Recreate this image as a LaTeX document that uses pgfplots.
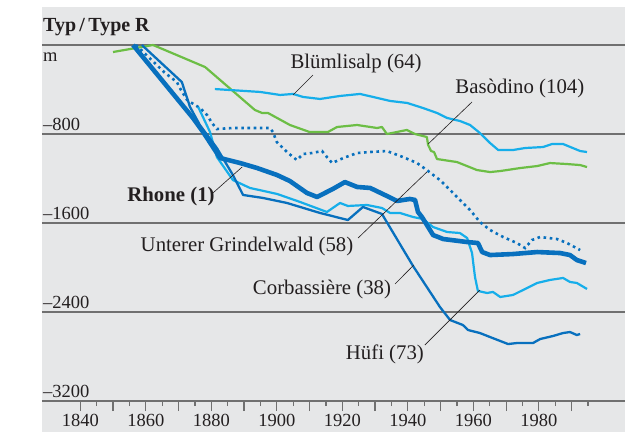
\documentclass[border=0pt]{standalone}
\usepackage{fontspec}
\setmainfont{Liberation Serif}
\usepackage{pgfplots}
\pgfplotsset{compat=1.18}

\definecolor{bg}{RGB}{230,231,232}
\definecolor{grn}{RGB}{108,190,69}
\definecolor{lblue}{RGB}{22,174,234}
\definecolor{dblue}{RGB}{8,112,190}
\definecolor{gridc}{RGB}{112,112,112}
\definecolor{txt}{RGB}{35,31,32}

\newcommand{\tickfont}{\fontsize{18.5}{20}\selectfont}
\newcommand{\labfont}{\fontsize{20.8}{22}\selectfont}

\begin{document}
\begin{tikzpicture}[x=1pt,y=1pt]
\useasboundingbox (0,0) rectangle (638,432);
\fill[bg] (42,0) rectangle (625,425);
\begin{axis}[
  at={(42pt,31pt)}, anchor=south west,
  scale only axis, width=583pt, height=394pt,
  xmin=1828.31, xmax=2006.3, ymin=-3200, ymax=341.6,
  axis x line*=bottom, axis y line*=left,
  x axis line style={gridc, line width=1.5pt, -},
  y axis line style={draw=none},
  xtick={1840,1850,...,1990},
  xticklabels={1840,,1860,,1880,,1900,,1920,,1940,,1960,,1980,},
  minor xtick={1845,1855,...,1995},
  tick align=outside,
  major tick length=10pt, minor tick length=5pt,
  xtick style={gridc, line width=1.2pt},
  xticklabel style={font=\tickfont, text=txt},
  ytick={-2400,-1600,-800,0},
  yticklabels={},
  ytick style={draw=none},
  ymajorgrids,
  major grid style={gridc, line width=1.5pt},
  clip=false,
]
% Basodino
\addplot[grn, line width=2.2pt, line join=round] coordinates {
(1850.0,-63) (1862.2,0) (1878.1,-198) (1893.3,-584) (1895.5,-611) (1897.3,-611)
(1904.0,-719) (1910.0,-782) (1915.6,-782) (1918.4,-737) (1924.5,-719) (1930.6,-746)
(1932.1,-737) (1933.6,-800) (1939.7,-764) (1942.2,-800) (1945.8,-827) (1946.2,-899)
(1947.1,-953) (1948.0,-962) (1948.9,-1025) (1955.0,-1052) (1961.1,-1124) (1965.1,-1142)
(1968.2,-1133) (1974.3,-1106) (1979.5,-1088) (1983.4,-1061) (1988.6,-1070) (1992.6,-1079)
(1994.7,-1097)};
% Bluemlisalp
\addplot[lblue, line width=2.2pt, line join=round] coordinates {
(1881.1,-396) (1894.9,-422) (1901.0,-449) (1905.0,-440) (1908.0,-467) (1913.2,-485)
(1919.3,-458) (1925.4,-440) (1929.4,-467) (1934.6,-503) (1939.8,-521) (1944.6,-566)
(1948.9,-611) (1952.0,-656) (1955.9,-683) (1959.0,-719) (1962.0,-791) (1965.1,-881)
(1967.6,-944) (1972.1,-944) (1975.8,-926) (1981.3,-917) (1984.0,-890) (1987.4,-890)
(1992.6,-953) (1994.7,-962)};
% Unterer Grindelwald
\addplot[dblue, line width=2.6pt, dash pattern=on 2.6pt off 3.6pt] coordinates {
(1857.0,0) (1865.9,-252) (1869.5,-333) (1870.4,-387) (1872.6,-494) (1875.0,-539)
(1876.5,-566) (1878.7,-629) (1880.2,-701) (1881.7,-755) (1886.6,-746) (1897.9,-746)
(1898.8,-782) (1900.0,-872) (1903.1,-962) (1906.1,-1034) (1908.0,-980) (1910.7,-971)
(1913.8,-953) (1915.3,-1007) (1916.9,-1061) (1920.3,-1016) (1924.5,-971) (1928.5,-962)
(1933.6,-953) (1938.5,-1007) (1942.8,-1061) (1945.8,-1124) (1949.8,-1214) (1952.9,-1303)
(1955.0,-1366) (1959.0,-1483) (1962.0,-1591) (1965.1,-1663) (1969.1,-1726) (1973.3,-1780)
(1975.8,-1825) (1977.9,-1753) (1980.4,-1726) (1985.5,-1744) (1988.6,-1780) (1992.6,-1843)};
% Huefi
\addplot[lblue, line width=2.2pt, line join=round] coordinates {
(1876.0,-557) (1879.6,-782) (1881.7,-1007) (1886.6,-1214) (1891.8,-1285) (1900.1,-1339)
(1907.1,-1411) (1915.3,-1501) (1919.3,-1420) (1921.7,-1447) (1927.5,-1438) (1932.1,-1465)
(1934.6,-1510) (1937.6,-1510) (1941.6,-1546) (1944.6,-1564) (1947.7,-1636) (1952.0,-1681)
(1955.9,-1690) (1958.1,-1735) (1959.6,-1870) (1960.5,-2085) (1961.4,-2211) (1964.2,-2229)
(1966.0,-2220) (1968.2,-2265) (1972.1,-2247) (1975.2,-2202) (1979.5,-2139) (1983.4,-2112)
(1987.4,-2094) (1989.5,-2130) (1991.6,-2139) (1994.7,-2193)};
% Corbassiere
\addplot[dblue, line width=2.3pt, line join=round] coordinates {
(1858.8,0) (1871.0,-333) (1873.5,-557) (1876.5,-719) (1881.7,-926) (1886.6,-1169)
(1889.7,-1348) (1895.8,-1375) (1903.1,-1420) (1913.2,-1510) (1921.7,-1573) (1926.3,-1456)
(1932.1,-1519) (1941.6,-1987) (1949.8,-2355) (1952.9,-2472) (1956.8,-2517) (1958.4,-2562)
(1962.0,-2589) (1965.1,-2625) (1970.6,-2688) (1973.3,-2679) (1978.2,-2679) (1980.4,-2643)
(1984.3,-2616) (1987.4,-2589) (1989.5,-2580) (1991.6,-2607) (1992.6,-2598)};
% Rhone
\addplot[dblue, line width=4.6pt, line join=round] coordinates {
(1856.1,0) (1874.4,-656) (1877.5,-782) (1882.7,-1016) (1888.8,-1061) (1894.0,-1106)
(1900.1,-1169) (1904.0,-1223) (1909.2,-1330) (1912.3,-1366) (1917.1,-1294) (1920.8,-1232)
(1924.5,-1276) (1928.5,-1285) (1933.6,-1357) (1936.7,-1402) (1940.6,-1384) (1942.2,-1393)
(1943.1,-1501) (1944.3,-1546) (1946.2,-1636) (1947.7,-1708) (1950.8,-1744) (1958.1,-1771)
(1961.4,-1780) (1962.7,-1861) (1965.1,-1888) (1972.1,-1879) (1979.5,-1861) (1986.5,-1870)
(1989.5,-1888) (1991.6,-1933) (1994.4,-1960)};

% leader lines
\draw[txt, line width=0.6pt] (axis cs:1911.05,-270) -- (axis cs:1904.95,-449);
\draw[txt, line width=0.6pt] (axis cs:1959.6,-512) -- (axis cs:1946.2,-890);
\draw[txt, line width=0.6pt] (axis cs:1924.8,-1735) -- (axis cs:1945.8,-1142);
\draw[txt, line width=0.6pt] (axis cs:1880.5,-1330) -- (axis cs:1889.4,-1097);
\draw[txt, line width=0.6pt] (axis cs:1936.1,-2148) -- (axis cs:1941.8,-1978);
\draw[txt, line width=0.6pt] (axis cs:1945.2,-2697) -- (axis cs:1962.0,-2202);

% labels
\node[font=\labfont, text=txt] at (axis cs:1924.2,-162) {Blümlisalp (64)};
\node[font=\labfont, text=txt] at (axis cs:1974.2,-387) {Basòdino (104)};
\node[font=\labfont\bfseries, text=txt] at (axis cs:1867.7,-1366) {Rhone (1)};
\node[font=\labfont, text=txt] at (axis cs:1890.9,-1807) {Unterer Grindelwald (58)};
\node[font=\labfont, text=txt] at (axis cs:1913.8,-2202) {Corbassière (38)};
\node[font=\labfont, text=txt] at (axis cs:1933.0,-2778) {Hüfi (73)};

% axis texts
\node[font=\fontsize{20}{22}\selectfont\bfseries, text=txt, anchor=west, inner sep=1pt] at (axis cs:1828.31,162) {Typ\,/\,Type R};
\node[font=\tickfont, text=txt, anchor=west, inner sep=1pt] at (axis cs:1828.31,-108) {m};
\node[font=\tickfont, text=txt, anchor=base west, inner sep=1pt] at (axis cs:1828.31,-770) {–800};
\node[font=\tickfont, text=txt, anchor=base west, inner sep=1pt] at (axis cs:1828.31,-1570) {–1600};
\node[font=\tickfont, text=txt, anchor=base west, inner sep=1pt] at (axis cs:1828.31,-2370) {–2400};
\node[font=\tickfont, text=txt, anchor=base west, inner sep=1pt] at (axis cs:1828.31,-3170) {–3200};
\end{axis}
\end{tikzpicture}
\end{document}
